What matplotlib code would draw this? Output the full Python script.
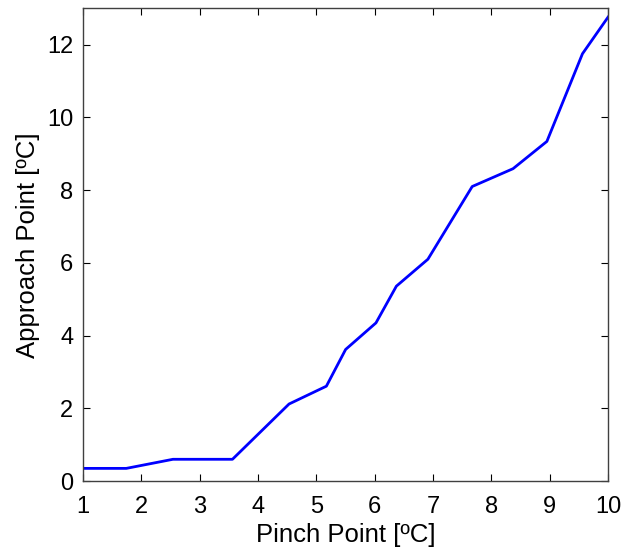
import matplotlib
matplotlib.use("Agg")
import matplotlib.pyplot as plt

# Approach point versus pinch point
pinch_point = [1.0, 1.74, 2.54, 3.56, 4.53, 5.17, 5.50, 6.02, 6.37, 6.91, 7.67, 8.37, 8.95, 9.56, 10.0]
approach_point = [0.35, 0.35, 0.60, 0.60, 2.12, 2.61, 3.62, 4.35, 5.36, 6.10, 8.10, 8.59, 9.34, 11.75, 12.76]

x_ticks = list(range(1, 11))
y_ticks = [0, 2, 4, 6, 8, 10, 12]

plt.rcParams['font.family'] = ['Liberation Sans', 'DejaVu Sans']

fig = plt.figure(figsize=(6.25, 5.53), dpi=100)
ax = fig.add_axes([0.133, 0.130, 0.840, 0.855])

ax.plot(pinch_point, approach_point, color='#0000ff', linewidth=2.0)

ax.set_xlim(1, 10)
ax.set_ylim(0, 13)
ax.set_xticks(x_ticks)
ax.set_yticks(y_ticks)
ax.tick_params(direction='in', top=True, right=True, length=5, width=0.8,
               labelsize=17)
ax.tick_params(axis='x', pad=11)
ax.tick_params(axis='y', pad=7)
for spine in ax.spines.values():
    spine.set_color('#404040')
    spine.set_linewidth(1.0)

ax.set_xlabel('Pinch Point [ºC]', fontsize=18.5, labelpad=3)
ax.set_ylabel('Approach Point [ºC]', fontsize=18.5, labelpad=5)

fig.savefig('out.png', dpi=100)
